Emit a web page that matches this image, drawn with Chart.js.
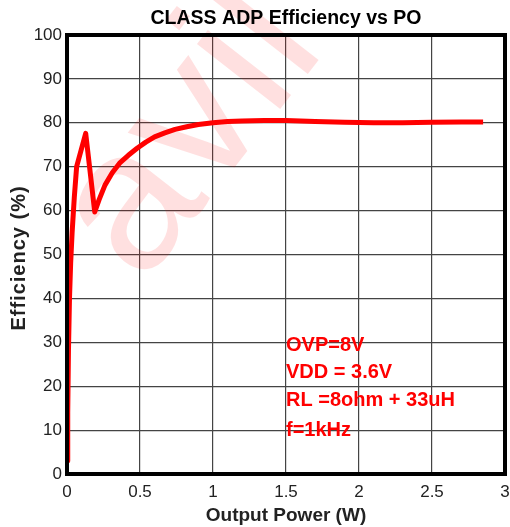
<!DOCTYPE html>
<html>
<head>
<meta charset="utf-8">
<script src="https://cdn.jsdelivr.net/npm/chart.js@4"></script>
<style>
  html, body { margin: 0; padding: 0; background: #fff; }
  #wrap { width: 510px; height: 527px; }
</style>
</head>
<body>
<div id="wrap"><canvas id="effChart" width="510" height="527"></canvas></div>
<script>
// Data
const powerW = [0.002, 0.005, 0.01, 0.017, 0.025, 0.035, 0.05, 0.066, 0.128, 0.19, 0.22, 0.26, 0.31, 0.36, 0.42, 0.48, 0.54, 0.6, 0.67, 0.74, 0.82, 0.9, 1.0, 1.1, 1.2, 1.35, 1.5, 1.7, 1.9, 2.1, 2.3, 2.5, 2.7, 2.85];
const efficiency = [3, 14, 28, 40, 48, 55, 63, 70, 77.6, 59.7, 62.5, 65.8, 68.6, 70.8, 72.6, 74.2, 75.6, 76.8, 77.7, 78.5, 79.1, 79.6, 80.0, 80.3, 80.4, 80.5, 80.5, 80.3, 80.1, 80.0, 80.0, 80.1, 80.2, 80.2];
const xTicks = [0, 0.5, 1, 1.5, 2, 2.5, 3];
const yTicks = [0, 10, 20, 30, 40, 50, 60, 70, 80, 90, 100];
const notes = ['OVP=8V', 'VDD = 3.6V', 'RL =8ohm + 33uH', 'f=1kHz'];

const FONT = 'Arial, "Liberation Sans", Helvetica, sans-serif';

// Title, axis titles, frame, watermark and notes
const decor = {
    id: 'decor',
    beforeDatasetsDraw(chart) {
        const ctx = chart.ctx;
        ctx.save();
        ctx.translate(142, 286);
        ctx.rotate(-52 * Math.PI / 180);
        ctx.font = '200px ' + FONT;
        ctx.fillStyle = 'rgba(255, 0, 0, 0.12)';
        ctx.textBaseline = 'alphabetic';
        ctx.fillText('avil', 0, 0);
        ctx.restore();
    },
    afterDraw(chart) {
        const { ctx, chartArea: a, scales } = chart;
        ctx.save();

        // frame
        ctx.strokeStyle = '#000';
        ctx.lineWidth = 4;
        ctx.strokeRect(a.left, a.top, a.right - a.left, a.bottom - a.top);

        // title
        ctx.fillStyle = '#000';
        ctx.font = 'bold 19.5px ' + FONT;
        ctx.textAlign = 'center';
        ctx.textBaseline = 'middle';
        ctx.fillText('CLASS ADP Efficiency vs PO', (a.left + a.right) / 2, 19);

        // axis titles
        ctx.fillStyle = '#222';
        ctx.font = 'bold 19px ' + FONT;
        ctx.fillText('Output Power (W)', (a.left + a.right) / 2, 516);
        ctx.save();
        ctx.translate(19, 258);
        ctx.rotate(-Math.PI / 2);
        ctx.font = 'bold 20px ' + FONT;
        ctx.letterSpacing = '1px';
        ctx.fillText('Efficiency (%)', 0, 0);
        ctx.restore();

        // notes
        ctx.fillStyle = '#ff0000';
        ctx.font = 'bold 20px ' + FONT;
        ctx.textAlign = 'left';
        const nx = scales.x.getPixelForValue(1.5);
        const ny = [29.3, 23.1, 16.8, 9.8];
        notes.forEach((t, i) => {
            ctx.fillText(t, nx, scales.y.getPixelForValue(ny[i]));
        });
        ctx.restore();
    }
};

const ctx = document.getElementById('effChart').getContext('2d');
new Chart(ctx, {
    type: 'line',
    data: {
        datasets: [{
            data: powerW.map((x, i) => ({ x: x, y: efficiency[i] })),
            borderColor: '#ff0000',
            borderWidth: 5,
            pointRadius: 0,
            tension: 0,
            borderJoinStyle: 'round',
            fill: false
        }]
    },
    options: {
        responsive: false,
        animation: false,
        layout: { padding: { top: 35, right: 5, left: 0, bottom: 0 } },
        plugins: {
            legend: { display: false },
            tooltip: { enabled: false },
            title: { display: false }
        },
        scales: {
            x: {
                type: 'linear',
                min: 0,
                max: 3,
                afterBuildTicks: s => { s.ticks = xTicks.map(v => ({ value: v })); },
                afterFit: s => { s.height = 53; s.paddingLeft = 0; s.paddingRight = 0; },
                grid: { color: '#444', lineWidth: 1.2, drawTicks: false },
                border: { display: false },
                ticks: {
                    color: '#222',
                    padding: 8,
                    maxRotation: 0,
                    font: { family: FONT, size: 17 },
                    callback: v => String(v)
                }
            },
            y: {
                type: 'linear',
                min: 0,
                max: 100,
                afterBuildTicks: s => { s.ticks = yTicks.map(v => ({ value: v })); },
                afterFit: s => { s.width = 67; s.paddingTop = 0; s.paddingBottom = 0; },
                grid: { color: '#444', lineWidth: 1.2, drawTicks: false },
                border: { display: false },
                ticks: {
                    color: '#222',
                    padding: 5,
                    font: { family: FONT, size: 17 },
                    callback: v => String(v)
                }
            }
        }
    },
    plugins: [decor]
});
</script>
</body>
</html>
